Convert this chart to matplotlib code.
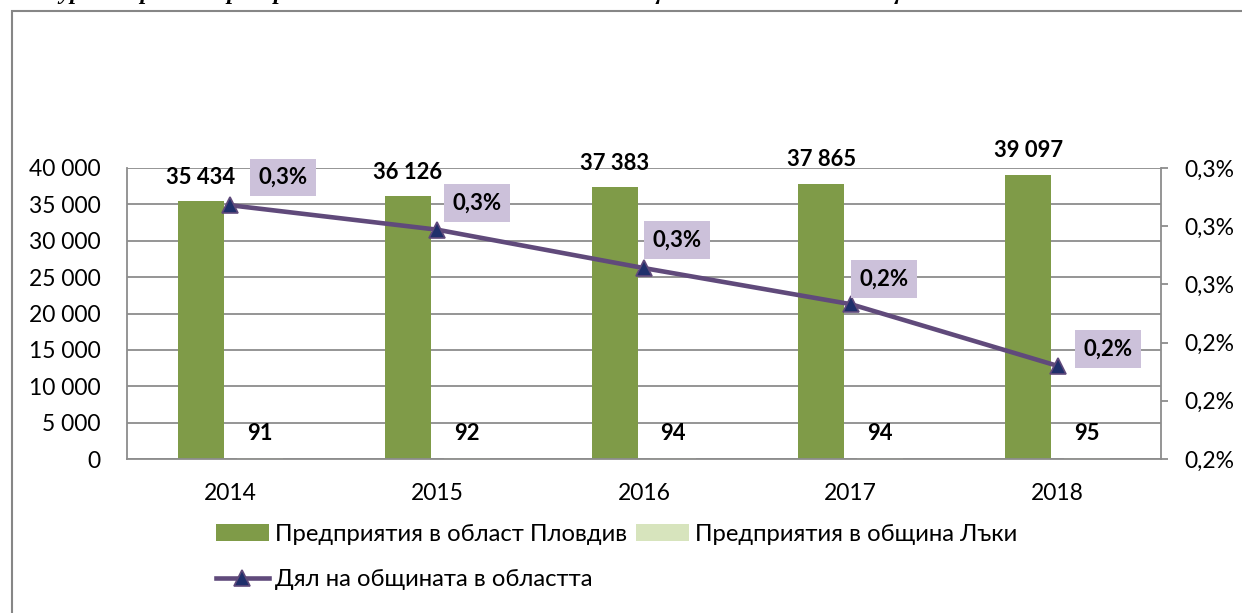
import numpy as np
import matplotlib
matplotlib.use('Agg')
import matplotlib.pyplot as plt
from matplotlib.patches import Rectangle
from matplotlib.ticker import FuncFormatter, MultipleLocator
from decimal import Decimal, ROUND_HALF_UP

plt.rcParams['font.family'] = ['Lato', 'DejaVu Sans']

# --------------------------------------------------------------------
#                       DATA
# --------------------------------------------------------------------
years = ['2014', '2015', '2016', '2017', '2018']
region_firms = [35434, 36126, 37383, 37865, 39097]      # област Пловдив
municipal_firms = [91, 92, 94, 94, 95]                  # община Лъки
share_pct = [0.2568, 0.2547, 0.2514, 0.2483, 0.2430]    # дял, %

legend_labels = ['Предприятия в област Пловдив',
                 'Предприятия в община Лъки',
                 'Дял на общината в областта']
title = ('Фигура 3: Брой на предприятията в област Пловдив и в община Лъки '
         'и дял на общината в областта')

# label offsets for the share boxes (points)
share_offsets = [(38, 20), (29, 19), (24, 20), (24, 18), (36, 12)]

# colours
GREEN = '#7F9B48'
LIGHT_GREEN = '#D7E4BD'
PURPLE = '#604A7B'
NAVY = '#1F2F6B'
BOX = '#CCC1DA'
GRID = '#8C8C8C'

# --------------------------------------------------------------------
#                       HELPERS
# --------------------------------------------------------------------

def thousands(v, pos=None):
    return f'{int(round(v)):,}'.replace(',', ' ')


def pct1(v, pos=None):
    d = Decimal(str(round(v, 6))).quantize(Decimal('0.1'), rounding=ROUND_HALF_UP)
    return f'{d}%'.replace('.', ',')


# --------------------------------------------------------------------
#                       PLOT
# --------------------------------------------------------------------
fig = plt.figure(figsize=(12.42, 6.13), dpi=100)
W, H = 1242, 613
ax = fig.add_axes([127 / W, 1 - 459 / H, (1161 - 127) / W, (459 - 168) / H])

x = np.arange(len(years))
off, bw = 0.142, 0.222
b1 = ax.bar(x - off, region_firms, width=bw, color=GREEN, zorder=2)
b2 = ax.bar(x + off, municipal_firms, width=bw, color=LIGHT_GREEN, zorder=2)

ax.set_xlim(-0.5, len(years) - 0.5)
ax.set_ylim(0, 40000)
ax.yaxis.set_major_locator(MultipleLocator(5000))
ax.yaxis.set_major_formatter(FuncFormatter(thousands))
ax.set_xticks(x)
ax.set_xticklabels(years)
ax.yaxis.grid(True, color=GRID, lw=1.3)
ax.set_axisbelow(True)
ax.tick_params(axis='y', length=0, pad=19, labelsize=16.5)
ax.tick_params(axis='x', length=0, pad=17, labelsize=16.5)
for s in ['top', 'right']:
    ax.spines[s].set_visible(False)
for s in ['left', 'bottom']:
    ax.spines[s].set_color(GRID)
    ax.spines[s].set_linewidth(1.3)

for i, v in enumerate(region_firms):
    ax.annotate(thousands(v), (x[i] - off, v), xytext=(0, 17), textcoords='offset points',
                ha='center', va='center', fontsize=15.8, fontweight='bold')
for i, v in enumerate(municipal_firms):
    ax.annotate(str(v), (x[i] + off, v), xytext=(0, 18), textcoords='offset points',
                ha='center', va='center', fontsize=15.8, fontweight='bold')

# secondary axis with the share line
ax2 = ax.twinx()
ax2.set_ylim(0.235, 0.260)
ax2.yaxis.set_major_locator(MultipleLocator(0.005))
ax2.yaxis.set_major_formatter(FuncFormatter(pct1))
ax2.tick_params(axis='y', length=5, width=1.3, color=GRID, pad=12, labelsize=16.5)
for s in ['top', 'left', 'bottom']:
    ax2.spines[s].set_visible(False)
ax2.spines['right'].set_color(GRID)
ax2.spines['right'].set_linewidth(1.3)

ln, = ax2.plot(x, share_pct, color=PURPLE, lw=3.3, marker='^', ms=12,
               mfc=NAVY, mec=PURPLE, mew=1.2, zorder=3)
for i, v in enumerate(share_pct):
    ax2.annotate(pct1(v), (x[i], v), xytext=share_offsets[i], textcoords='offset points',
                 ha='center', va='center', fontsize=16, fontweight='bold',
                 bbox=dict(boxstyle='square,pad=0.38', fc=BOX, ec='none'))

fig.legend([b1, ln, b2], [legend_labels[0], legend_labels[2], legend_labels[1]],
           ncol=2, loc='upper left', bbox_to_anchor=(216 / W, 1 - 524 / H),
           frameon=False, fontsize=17.2, handlelength=2.2, handletextpad=0.25,
           columnspacing=0.4, labelspacing=1.0, borderpad=0, borderaxespad=0)

# chart border and clipped title
fig.add_artist(Rectangle((12 / W, -0.1), 1.5, 1 - 11 / H + 0.1, transform=fig.transFigure,
                         fill=False, ec='#868686', lw=1.5))
fig.text(18 / W, 1 + 1 / H, title, family='Liberation Serif', style='italic',
         fontweight='bold', fontsize=17, va='baseline', ha='left')

plt.savefig('out.png', dpi=100)
plt.close()
